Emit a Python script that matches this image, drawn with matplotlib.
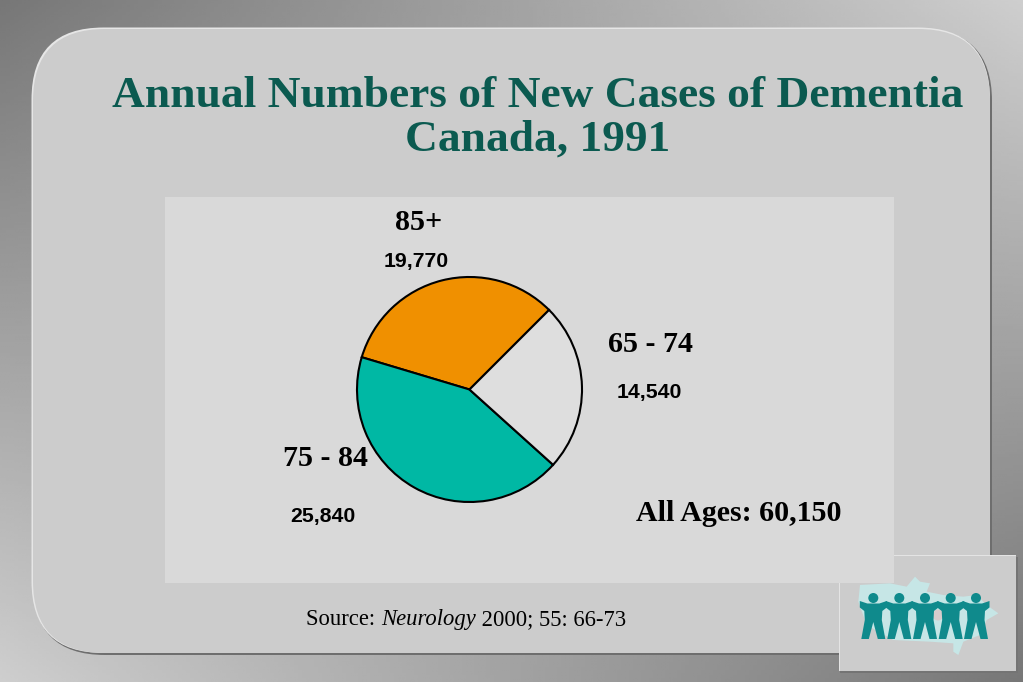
import numpy as np
import matplotlib
matplotlib.use("Agg")
import matplotlib.pyplot as plt
from matplotlib.patches import FancyBboxPatch, Rectangle, Polygon, Circle, Ellipse

# data
age_groups = ["85+", "75 - 84", "65 - 74"]
case_counts = [19770, 25840, 14540]
slice_colors = ["#f09000", "#00b8a4", "#dedede"]
title_lines = ["Annual Numbers of New Cases of Dementia", "Canada, 1991"]
total_label = "All Ages: 60,150"

W, H = 1023, 682
SERIF = "Liberation Serif"
SANS = "Liberation Sans"

fig = plt.figure(figsize=(W / 100, H / 100), dpi=100)
ax = fig.add_axes([0, 0, 1, 1])
ax.set_xlim(0, W)
ax.set_ylim(H, 0)
ax.axis("off")

# background gradient: dark at top-left/bottom-right, light at the other corners
u, v = np.meshgrid(np.linspace(0, 1, 256), np.linspace(0, 1, 256))
grad = u * (1 - v) + v * (1 - u)
ax.imshow(0x77 + (0xce - 0x77) * grad, cmap="gray", vmin=0, vmax=255,
          extent=(0, W, H, 0), aspect="auto", zorder=0, interpolation="bilinear")


def panel(x0, y0, x1, y1, color, r=72, z=1):
    ax.add_patch(FancyBboxPatch((x0, y0), x1 - x0, y1 - y0,
                                boxstyle=f"round,pad=0,rounding_size={r}",
                                fc=color, ec="none", zorder=z))


panel(33, 29, 992, 655, "#6e6e6e")
panel(31.5, 27.5, 990, 653, "#e6e6e6")
panel(33, 29, 990, 653, "#cccccc")

# logo box
ax.add_patch(Rectangle((840, 557), 178, 116, fc="#747474", ec="none", zorder=2))
ax.add_patch(Rectangle((839, 555), 177, 116, fc="#e4e4e4", ec="none", zorder=2))
ax.add_patch(Rectangle((839.5, 556), 176.5, 115, fc="#cccccc", ec="none", zorder=2))

# map outline behind the figures
map_zoom = [(90, 120), (180, 115), (230, 125), (255, 95), (270, 110), (300, 115),
            (290, 140), (340, 150), (400, 155), (440, 150), (470, 180), (505, 205),
            (470, 225), (450, 270), (400, 290), (385, 330), (370, 320), (370, 295),
            (300, 290), (190, 285), (110, 240), (85, 170)]
map_pts = [(830 + a / 3, 545 + b / 3) for a, b in map_zoom]
ax.add_patch(Polygon(map_pts, closed=True, fc="#c6e6e6", ec="none", zorder=3))
ax.add_patch(Ellipse((938, 615), 11, 11, fc="#d8cccc", ec="none", zorder=3))

person = [(-13.5, 601), (-6, 603.5), (6, 603.5), (13.5, 601), (13.5, 607.5), (9, 611), (8.5, 620),
          (12, 639), (4.5, 639), (0, 622), (-4.5, 639), (-12, 639), (-8.5, 620), (-9, 611),
          (-13.5, 607.5)]
for cx in (873.3, 899.3, 925, 950.7, 976):
    ax.add_patch(Circle((cx, 598), 5, fc="#0f8a8c", ec="none", zorder=4))
    ax.add_patch(Polygon([(cx + a, b) for a, b in person], closed=True,
                         fc="#0f8a8c", ec="none", zorder=4))

# inner plot area sits over the logo box corner
ax.add_patch(Rectangle((165, 197), 729, 386, fc="#d9d9d9", ec="none", zorder=5))

# title
title_kw = dict(family=SERIF, weight="bold", color="#0b5a50", size=32.65,
                ha="center", va="baseline", zorder=6)
ax.text(538, 107, title_lines[0], **title_kw)
ax.text(538, 151, title_lines[1], **title_kw)

# slice labels
group_kw = dict(family=SERIF, weight="bold", color="black", size=21.6,
                ha="center", va="baseline", zorder=6)
count_kw = dict(family=SANS, weight="bold", color="black", size=15.3,
                ha="center", va="baseline", zorder=6)
group_pos = [(419, 230), (325, 466), (650, 352)]
count_pos = [(416, 267), (323, 522), (649, 398)]
for name, n, gp, cp in zip(age_groups, case_counts, group_pos, count_pos):
    ax.text(*gp, name, **group_kw)
    ax.text(*cp, f"{n:,}", **count_kw)
ax.text(739, 521, total_label, **group_kw)

# source line
fig.canvas.draw()
rend = fig.canvas.get_renderer()
xpos = 306
for s, style in (("Source: ", "normal"), ("Neurology", "italic"), (" 2000; 55: 66-73", "normal")):
    ax.text(xpos, 625, s, family=SERIF, style=style, size=16.3, color="black",
            ha="left", va="baseline", zorder=6)
    probe = ax.text(0, 0, s.replace(" ", "\u00a0"), family=SERIF, style=style, size=16.3)
    xpos += probe.get_window_extent(rend).width
    probe.remove()

# pie
cx, cy, r = 469.5, 389.5, 112.5
pax = fig.add_axes([(cx - r) / W, 1 - (cy + r) / H, 2 * r / W, 2 * r / H])
pax.pie(case_counts, colors=slice_colors, startangle=45, radius=1,
        wedgeprops=dict(edgecolor="black", linewidth=1.5), normalize=True)
pax.set_xlim(-1, 1)
pax.set_ylim(-1, 1)
for w in pax.patches:
    w.set_clip_on(False)
pax.set_zorder(7)

fig.savefig("out.png", dpi=100)
